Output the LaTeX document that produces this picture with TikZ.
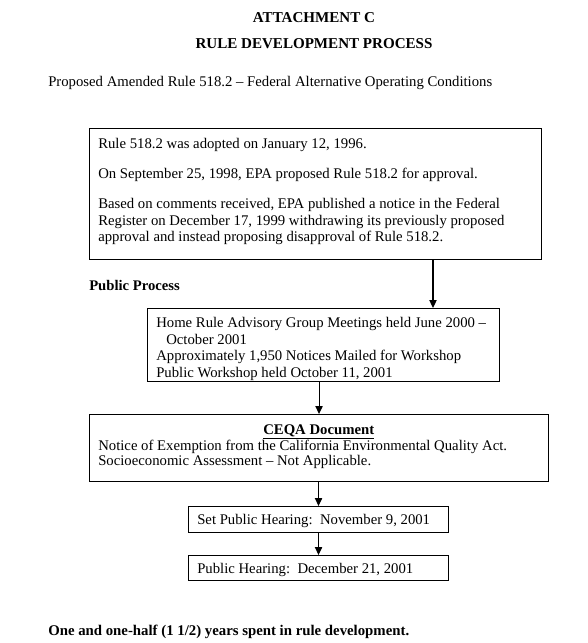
\documentclass[tikz,border=0pt]{standalone}
\usepackage{fontspec}
\setmainfont{Liberation Serif}
\usetikzlibrary{arrows.meta,calc}
\begin{document}
\begin{tikzpicture}[x=0.75pt,y=-0.75pt,
  box/.style={draw,line width=0.8pt,inner sep=0pt,anchor=north west},
  txt/.style={inner sep=0pt,anchor=north west,align=left,font=\fontsize{11.05}{12.5}\selectfont},
  bold/.style={inner sep=0pt,anchor=base west,font=\fontsize{11.1}{13}\selectfont\bfseries},
  ttl/.style={inner sep=0pt,anchor=base,font=\fontsize{11.3}{13}\selectfont\bfseries},
  arr/.style={line width=0.8pt,-{Triangle[length=6pt,width=5.5pt]}}]
\useasboundingbox (0,0) rectangle (587,643);
\fill[white] (0,0) rectangle (587,643);
% titles
\node[ttl] (t1) at (314,22) {ATTACHMENT C};
\node[ttl] (t2) at (314,48) {RULE DEVELOPMENT PROCESS};
\node[txt,anchor=base west] (sub) at (48,86) {Proposed Amended Rule 518.2 -- Federal Alternative Operating Conditions};
% boxes
\node[box,minimum width=339pt,minimum height=98.25pt] (b1) at (89,128) {};
\node[txt] (b1t) at ([shift={(9,10)}]b1.north west) {Rule 518.2 was adopted on January 12, 1996.\\[10pt]
On September 25, 1998, EPA proposed Rule 518.2 for approval.\\[10pt]
Based on comments received, EPA published a notice in the Federal\\
Register on December 17, 1999 withdrawing its previously proposed\\
approval and instead proposing disapproval of Rule 518.2.};
\node[bold,font=\fontsize{11}{13}\selectfont\bfseries] (pp) at (89,290) {Public Process};
\node[box,minimum width=264pt,minimum height=54.75pt] (b2) at (147,308) {};
\node[txt] (b2t) at ([shift={(9,9)}]b2.north west) {Home Rule Advisory Group Meetings held June 2000 --\\
\hspace*{7.5pt}October 2001\\
Approximately 1,950 Notices Mailed for Workshop\\
Public Workshop held October 11, 2001};
\node[box,minimum width=344.25pt,minimum height=50.25pt] (b3) at (89,414) {};
\node[txt,font=\fontsize{11.05}{11.25}\selectfont] (b3t) at ([shift={(9,10)}]b3.north west) {\makebox[330.75pt]{\bfseries\underline{CEQA Document}}\\
Notice of Exemption from the California Environmental Quality Act.\\
Socioeconomic Assessment -- Not Applicable.};
\node[box,minimum width=195pt,minimum height=19.5pt] (b4) at (188,506) {};
\node[txt,anchor=west] (b4t) at ([shift={(9,1)}]b4.west) {Set Public Hearing:\ \ November 9, 2001};
\node[box,minimum width=195pt,minimum height=18.75pt] (b5) at (188,555) {};
\node[txt,anchor=west] (b5t) at ([shift={(9,1.5)}]b5.west) {Public Hearing:\ \ December 21, 2001};
\node[bold] (ft) at (48,635) {One and one-half (1 1/2) years spent in rule development.};
% connectors
\coordinate (c1) at (433,0);
\draw[arr] (c1 |- b1.south) -- (c1 |- b2.north);
\draw[arr] (b3.north |- b2.south) -- (b3.north);
\draw[arr] (b4.north |- b3.south) -- (b4.north);
\draw[arr] (b4.south) -- (b5.north);
\end{tikzpicture}
\end{document}
